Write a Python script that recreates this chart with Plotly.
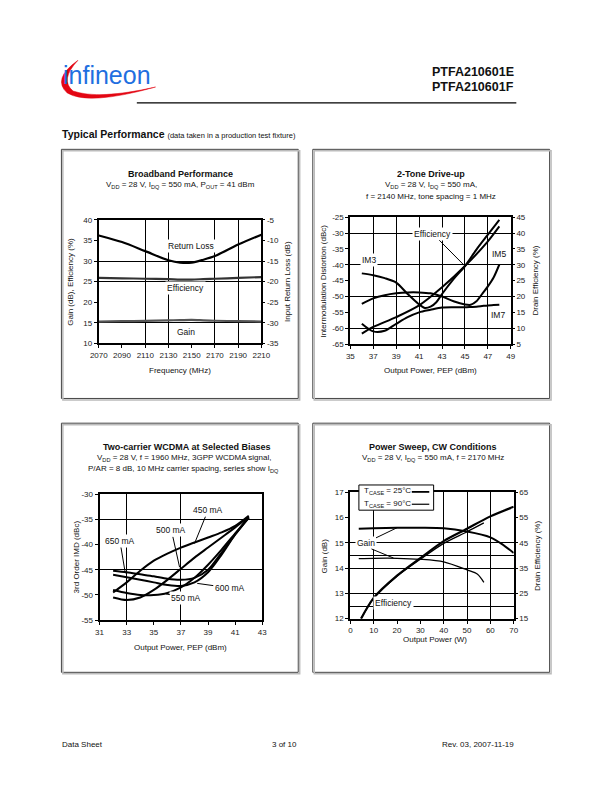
import plotly.graph_objects as go

W, H = 612, 792
FONT = "Liberation Sans, Arial, sans-serif"

def px(x):
    return x / W

def py(y):
    return 1 - y / H

# ---------------- Chart 1: Broadband Performance ----------------
freq = [2070, 2090, 2110, 2130, 2140, 2150, 2160, 2170, 2190, 2210]
return_loss = [-8.8, -10.4, -12.6, -14.8, -15.4, -15.4, -14.7, -13.8, -11.0, -8.6]
efficiency1 = [25.9, 25.8, 25.7, 25.6, 25.5, 25.5, 25.6, 25.7, 25.9, 26.1]
gain1 = [15.3, 15.4, 15.45, 15.6, 15.65, 15.7, 15.6, 15.5, 15.4, 15.3]

# ---------------- Chart 2: 2-Tone Drive-up ----------------
pep2 = [36, 37, 38, 39, 40, 41, 41.5, 42, 42.5, 43, 44, 45, 46, 47, 48]
im3 = [-42.7, -43.3, -44.2, -45.6, -49.2, -52.5, -53.6, -53.2, -51.8, -49.2, -44.5, -40.4, -35.2, -30.5, -25.8]
pep2b = [36, 37, 38, 39, 40, 41, 42, 43, 44, 45, 45.5, 46, 46.5, 47, 47.5, 48]
im5 = [-52.3, -50.6, -49.6, -49.0, -48.7, -48.7, -49.0, -50.0, -51.5, -52.5, -52.6, -51.5, -49.2, -46.8, -44.0, -39.9]
im7 = [-58.6, -61.0, -60.8, -58.6, -56.5, -55.0, -54.2, -53.5, -53.4, -53.4, -53.3, -53.2, -53.0, -52.8, -52.7, -52.6]
pep2c = [36, 37, 39, 41, 43, 45, 47, 48]
drain_eff2 = [8.3, 10.4, 13.5, 17.2, 22.9, 29.6, 37.4, 42.1]

# ---------------- Chart 3: Two-carrier WCDMA ----------------
pep3 = [32, 33, 34, 35, 36, 37, 38, 39, 40, 41, 42]
imd_450 = [-49.5, -47.5, -45.2, -43.2, -41.8, -40.6, -39.6, -38.6, -37.6, -36.3, -34.3]
imd_500 = [-50.5, -51.0, -50.5, -49.0, -47.0, -44.8, -42.6, -40.6, -38.6, -36.6, -34.5]
imd_550 = [-49.0, -49.6, -50.0, -50.0, -49.6, -48.5, -46.6, -44.0, -41.0, -37.8, -34.6]
imd_600 = [-46.0, -46.5, -47.0, -47.5, -48.0, -48.2, -47.5, -45.5, -42.0, -38.0, -34.6]
imd_650 = [-45.2, -45.5, -45.9, -46.3, -46.8, -47.0, -46.6, -45.0, -41.6, -38.0, -34.7]

# ---------------- Chart 4: Power Sweep ----------------
pout25 = [3.6, 10, 20, 30, 40, 50, 60, 65, 70]
gain25 = [15.56, 15.58, 15.6, 15.6, 15.58, 15.45, 15.22, 14.95, 14.6]
pout90 = [3.6, 10, 20, 30, 40, 50, 54.5, 57.2]
gain90 = [14.38, 14.39, 14.39, 14.35, 14.25, 13.93, 13.76, 13.44]
pe25 = [4.6, 10, 20, 30, 40, 50, 60, 70]
eff25 = [15, 23.2, 32, 39, 45.7, 50.6, 55.5, 59.3]
pe90 = [4.6, 10, 20, 30, 40, 50, 57.2]
eff90 = [15, 23, 31.8, 38.5, 44.8, 49.4, 52.9]

fig = go.Figure()

def line(x, y, xa, ya, width=2, color="black"):
    fig.add_trace(go.Scatter(x=x, y=y, xaxis=xa, yaxis=ya, mode="lines",
                             line=dict(color=color, width=width, shape="spline", smoothing=0.8),
                             showlegend=False, hoverinfo="skip"))

line(freq, return_loss, "x", "y2", 2.2)
line(freq, efficiency1, "x", "y", 2.2, "#333")
line(freq, gain1, "x", "y", 2.2, "#555")

line(pep2, im3, "x2", "y3", 2)
line(pep2b, im5, "x2", "y3", 2)
line(pep2b, im7, "x2", "y3", 2)
line(pep2c, drain_eff2, "x2", "y4", 2)

for s in [imd_450, imd_500, imd_550, imd_600, imd_650]:
    line(pep3, s, "x3", "y5", 2)

line(pout25, gain25, "x4", "y6", 2)
line(pout90, gain90, "x4", "y6", 1.3)
line(pe25, eff25, "x4", "y7", 2.2)
line(pe90, eff90, "x4", "y7", 1.3)

tickfont = dict(family=FONT, size=8, color="#222")

def ticks(rng, step):
    vals = []
    v = rng[0]
    while v <= rng[1] + 1e-9:
        vals.append(round(v, 6))
        v += step
    txt = [("%g" % t) for t in vals]
    return vals, txt

def xax(dom, anchor, rng, dtick, grid):
    tv, tt = ticks(rng, dtick)
    return dict(domain=dom, anchor=anchor, range=rng, tickmode="array", tickvals=tv, ticktext=tt,
                showline=True, mirror=True, linecolor="black", linewidth=2,
                showgrid=False, zeroline=False, ticks="outside", ticklen=3,
                tickcolor="black", tickfont=tickfont, fixedrange=True,
                minor=dict(tickvals=grid, showgrid=True, gridcolor="black", gridwidth=1.3, ticks=""))

def yax(dom, anchor, rng, dtick, grid, side="left", overlay=None, showline=True):
    tv, tt = ticks(rng, dtick)
    d = dict(domain=dom, anchor=anchor, range=rng, tickmode="array", tickvals=tv, ticktext=tt, side=side,
             showline=showline, mirror=showline, linecolor="black", linewidth=2,
             showgrid=False, zeroline=False, ticks="outside", ticklen=3,
             tickcolor="black", tickfont=tickfont, fixedrange=True)
    if grid:
        d["minor"] = dict(tickvals=grid, showgrid=True, gridcolor="black", gridwidth=1.3, ticks="")
    if overlay:
        d["overlaying"] = overlay
        d.pop("domain")
    return d

# plot area pixel boxes
b1 = (92.5, 260, 218.3, 343.3)
b2 = (351.7, 517, 215.7, 344)
b3 = (93.3, 261, 495.7, 623.3)
b4 = (351.7, 520, 494, 621.7)

def xd(b):
    return [px(b[0]), px(b[1])]

def yd(b):
    return [py(b[3]), py(b[2])]

fig.update_layout(
    xaxis=xax(xd(b1), "y", [2070, 2210], 20, [2110, 2130, 2170, 2190]),
    yaxis=yax(yd(b1), "x", [10, 40], 5, [15, 25, 30]),
    yaxis2=yax(None, "x", [-35, -5], 5, None, side="right", overlay="y", showline=False),
    xaxis2=xax(xd(b2), "y3", [35, 49], 2, [37, 39, 41, 43, 45, 47]),
    yaxis3=yax(yd(b2), "x2", [-65, -25], 5, [-30, -40, -50, -60]),
    yaxis4=yax(None, "x2", [5, 45], 5, None, side="right", overlay="y3", showline=False),
    xaxis3=xax(xd(b3), "y5", [31, 43], 2, [33, 37]),
    yaxis5=yax(yd(b3), "x3", [-55, -30], 5, [-35, -45]),
    xaxis4=xax(xd(b4), "y6", [0, 70], 10, [10, 40, 50, 60]),
    yaxis6=yax(yd(b4), "x4", [12, 17], 1, [12.5, 13, 14, 14.5, 15]),
    yaxis7=yax(None, "x4", [15, 65], 10, None, side="right", overlay="y6", showline=False),
)

shapes = []
ann = []

def text(x, y, t, size=8, bold=False, xanchor="center", angle=0, color="#111"):
    if bold:
        t = "<b>" + t + "</b>"
    ann.append(dict(x=px(x), y=py(y), xref="paper", yref="paper", text=t, showarrow=False,
                    xanchor=xanchor, yanchor="middle", textangle=angle,
                    font=dict(family=FONT, size=size, color=color)))

# panel borders
for (x0, x1, y0, y1) in [(54, 298, 147, 399), (313, 557, 147, 399), (54, 298, 424, 676), (313, 557, 424, 676)]:
    shapes.append(dict(type="rect", xref="paper", yref="paper", x0=px(x0 + 1.5), x1=px(x1 + 1.5),
                       y0=py(y1 + 1.5), y1=py(y0 + 1.5), line=dict(color="#bbb", width=1.5)))
    shapes.append(dict(type="rect", xref="paper", yref="paper", x0=px(x0), x1=px(x1),
                       y0=py(y1), y1=py(y0), line=dict(color="#444", width=1), fillcolor="white",
                       layer="below"))

# header
shapes.append(dict(type="line", xref="paper", yref="paper", x0=px(131.7), x1=px(522.7),
                   y0=py(100), y1=py(100), line=dict(color="black", width=1.2)))

swoosh = ("M {} {} Q {} {} {} {} Q {} {} {} {} Q {} {} {} {} Q {} {} {} {} Z").format(
    px(71), py(57), px(44), py(76), px(60), py(90), px(82), py(103), px(151), py(84),
    px(92), py(97), px(66), py(88), px(52), py(77), px(71), py(57))
shapes.append(dict(type="path", xref="paper", yref="paper", path=swoosh,
                   fillcolor="#e30613", line=dict(color="#e30613", width=0.5)))
text(101, 72, "infineon", size=25, color="#1f6fe0")

text(522.7, 69, "PTFA210601E", size=12.5, bold=True, xanchor="right")
text(522.7, 84, "PTFA210601F", size=12.5, bold=True, xanchor="right")
text(52.7, 131, "<b>Typical Performance</b> <span style='font-size:7.5px'>(data taken in a production test fixture)</span>",
     size=10.5, xanchor="left")

# footer
text(52.7, 749, "Data Sheet", size=8, xanchor="left")
text(284, 749, "3 of 10", size=8)
text(522.7, 749, "Rev. 03, 2007-11-19", size=8, xanchor="right")

# Chart 1 titles
text(176.5, 171.7, "Broadband Performance", size=9, bold=True)
text(176.5, 183.3, "V<sub>DD</sub> = 28 V, I<sub>DQ</sub> = 550 mA, P<sub>OUT</sub> = 41 dBm", size=8)
text(176.5, 370.7, "Frequency (MHz)", size=8)
text(63, 280.8, "Gain (dB), Efficiency (%)", size=8, angle=-90)
text(286.7, 280.8, "Input Return Loss (dB)", size=8, angle=-90)

# Chart 2 titles
text(434.5, 171.7, "2-Tone Drive-up", size=9, bold=True)
text(434.5, 183.3, "V<sub>DD</sub> = 28 V, I<sub>DQ</sub> = 550 mA,", size=8)
text(434.5, 195, "f = 2140 MHz, tone spacing = 1 MHz", size=8)
text(434.5, 370.7, "Output Power, PEP (dBm)", size=8)
text(324.3, 280, "Intermodulation Distortion (dBc)", size=8, angle=-90)
text(542.7, 280, "Drain Efficiency (%)", size=8, angle=-90)

# Chart 3 titles
text(183.3, 448.3, "Two-carrier WCDMA at Selected Biases", size=9, bold=True)
text(180, 459.3, "V<sub>DD</sub> = 28 V, f = 1960 MHz, 3GPP WCDMA signal,", size=8)
text(180, 470.5, "P/AR = 8 dB, 10 MHz carrier spacing, series show I<sub>DQ</sub>", size=8)
text(176.7, 651, "Output Power, PEP (dBm)", size=8)
text(69.3, 559.5, "3rd Order IMD (dBc)", size=8, angle=-90)

# Chart 4 titles
text(436.7, 448.3, "Power Sweep, CW Conditions", size=9, bold=True)
text(436.7, 459.3, "V<sub>DD</sub> = 28 V, I<sub>DQ</sub> = 550 mA, f = 2170 MHz", size=8)
text(439.3, 643.3, "Output Power (W)", size=8)
text(325.3, 558, "Gain (dB)", size=8, angle=-90)
text(544.3, 558, "Drain Efficiency (%)", size=8, angle=-90)

def label(xa, ya, x, y, t, ax=None, ay=None, bg="white"):
    # (x, y): point the leader touches; (ax, ay): where the text sits
    d = dict(xref=xa, yref=ya, x=x, y=y, text=t, font=dict(family=FONT, size=8.5, color="#111"),
             bgcolor=bg, borderpad=1)
    if ax is None:
        d["showarrow"] = False
    else:
        d.update(showarrow=True, arrowhead=0, arrowwidth=1, arrowcolor="black",
                 axref=xa, ayref=ya, ax=ax, ay=ay, standoff=0, startstandoff=0)
    ann.append(d)

# chart 1 labels
label("x", "y", 2149, 33.6, "Return Loss")
label("x", "y", 2145, 23.4, "Efficiency")
label("x", "y", 2145, 12.8, "Gain")

# chart 2 labels
label("x2", "y3", 45.0, -40.4, "Efficiency", 42.2, -30.2)
label("x2", "y3", 36.6, -38.5, "IM3")
label("x2", "y3", 48.0, -36.5, "IM5")
label("x2", "y3", 47.9, -55.8, "IM7")

# chart 3 labels
label("x3", "y5", 38.0, -39.8, "450 mA", 39.0, -33.2)
label("x3", "y5", 36.9, -44.5, "500 mA", 36.3, -37.2)
label("x3", "y5", 32.9, -45.7, "650 mA", 32.5, -39.3)
label("x3", "y5", 38.2, -47.7, "600 mA", 40.6, -48.6)
label("x3", "y5", 35.9, -49.8, "550 mA", 37.4, -50.5)

# chart 4 labels
label("x4", "y6", 20, 15.6, "Gain", 6.5, 15.0)
label("x4", "y6", 18.5, 14.4, " ", 8.0, 14.8, bg="rgba(0,0,0,0)")
label("x4", "y6", 18.5, 12.6, "Efficiency")

# chart 4 legend box
shapes.append(dict(type="rect", xref="paper", yref="paper", x0=px(360.5), x1=px(437.5),
                   y0=py(512), y1=py(486.5), line=dict(color="black", width=1), fillcolor="white"))
text(364, 492.5, "T<sub>CASE</sub> = 25°C", size=8, xanchor="left")
text(364, 505.5, "T<sub>CASE</sub> = 90°C", size=8, xanchor="left")
shapes.append(dict(type="line", xref="paper", yref="paper", x0=px(415), x1=px(433),
                   y0=py(493.5), y1=py(493.5), line=dict(color="black", width=1.8)))
shapes.append(dict(type="line", xref="paper", yref="paper", x0=px(415), x1=px(433),
                   y0=py(506), y1=py(506), line=dict(color="black", width=1.2)))

fig.update_layout(width=W, height=H, margin=dict(l=0, r=0, t=0, b=0),
                  paper_bgcolor="white", plot_bgcolor="rgba(0,0,0,0)",
                  shapes=shapes, annotations=ann, showlegend=False,
                  font=dict(family=FONT))

fig.write_html("out.html", config={"displayModeBar": False},
               post_script="document.body.style.margin='0';document.body.style.overflow='hidden';")
